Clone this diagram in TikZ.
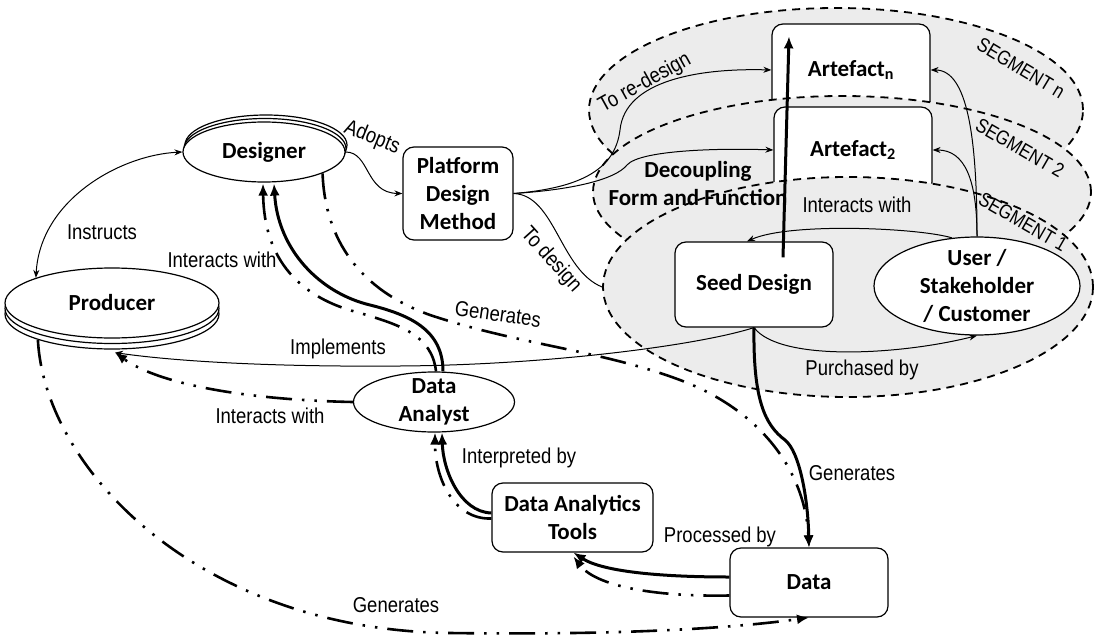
\documentclass[tikz,border=0pt]{standalone}
\usepackage{fontspec}
\newfontfamily\labfont[FakeStretch=0.86]{Liberation Sans}
\newfontfamily\segfont[FakeStretch=0.85]{Liberation Sans}
\newfontfamily\nodefont{Carlito}
\usetikzlibrary{shapes.geometric,arrows.meta,calc}
\definecolor{seggray}{RGB}{236,236,236}
\tikzset{
  tS/.tip={Stealth[length=8pt,width=6pt]},
  tL/.tip={Latex[length=12pt,width=10pt]},
  segell/.style={ellipse, draw, dash pattern=on 8pt off 6pt, line width=1.8pt, fill=seggray, inner sep=0pt},
  nodetext/.style={font=\nodefont\bfseries\fontsize{23}{28}\selectfont, align=center, inner sep=0pt},
  boxnode/.style={rectangle, rounded corners=11pt, draw, line width=1.2pt, fill=white, inner sep=0pt, nodetext},
  ovalnode/.style={ellipse, draw, line width=1.2pt, fill=white, inner sep=0pt},
  lab/.style={font=\labfont\fontsize{21.5}{24}\selectfont, inner sep=0pt},
  seglab/.style={font=\segfont\fontsize{20}{22}\selectfont, inner sep=0pt},
  thinl/.style={line width=1pt},
  thickl/.style={line width=3pt},
  ddl/.style={line width=2.6pt, dash pattern=on 26pt off 10pt on 2.5pt off 10pt on 2.5pt off 10pt},
}
\begin{document}
\begin{tikzpicture}[x=1pt,y=1pt]
\useasboundingbox (0,0) rectangle (1097,-639);

% segments and artefacts
\node[segell, minimum width=494pt, minimum height=204pt] (segn) at (836,-110) {};
\node[boxnode, minimum width=158pt, minimum height=92pt] (artn) at (851,-70) {};
\node[segell, minimum width=498pt, minimum height=192pt] (seg2) at (842,-192) {};
\node[boxnode, minimum width=158pt, minimum height=86pt] (art2) at (853,-150) {};
\node[segell, minimum width=490pt, minimum height=220pt] (seg1) at (848,-287) {};
\node[nodetext] (artnt) at (851,-70) {Artefact\textsubscript{n}};
\node[nodetext] (art2t) at (853,-150) {Artefact\textsubscript{2}};

\node[boxnode, minimum width=158pt, minimum height=85pt] (sd) at (754,-284.5) {Seed Design};
\node[ovalnode, minimum width=206pt, minimum height=98pt,
      label={[nodetext]center:User /\\Stakeholder\\/ Customer}] (user) at (977,-286) {};

% designer with stacked copies
\node[ovalnode, minimum width=162pt, minimum height=60pt] (desc2) at (266,-145) {};
\node[ovalnode, minimum width=162pt, minimum height=60pt] (desc1) at (265,-148.5) {};
\node[ovalnode, minimum width=162pt, minimum height=60pt,
      label={[nodetext]center:Designer}] (des) at (264,-152) {};

% producer with stacked copies
\node[ovalnode, minimum width=214pt, minimum height=70pt] (prodc2) at (112,-314) {};
\node[ovalnode, minimum width=214pt, minimum height=70pt] (prodc1) at (112,-308.5) {};
\node[ovalnode, minimum width=214pt, minimum height=70pt,
      label={[nodetext]center:Producer}] (prod) at (112,-303) {};

\node[boxnode, minimum width=110pt, minimum height=93pt] (pdm) at (458,-193.5) {Platform\\Design\\Method};
\node[ovalnode, minimum width=161pt, minimum height=60pt,
      label={[nodetext]center:Data\\Analyst}] (da) at (434,-402) {};
\node[boxnode, minimum width=161pt, minimum height=69pt] (dat) at (572.5,-517.5) {Data Analytics\\Tools};
\node[boxnode, minimum width=158pt, minimum height=69pt] (data) at (809,-582.5) {Data};

\coordinate (prodbot) at ($(prod.south)+(3,-14)$);
\coordinate (prodbl) at ($(prod.south west)+(2,-12)$);

% thin connectors
\draw[thinl, tS-tS] (des.west) .. controls (120,-155) and (40,-200) .. (prod.north west);
\draw[thinl, -tS] (des.east) .. controls (370,-152) and (365,-193) .. (pdm.west);
\draw[thinl, -tS] (pdm.east) .. controls (580,-188) and (615,-170) .. (620,-130)
      .. controls (625,-80) and (700,-68) .. (artn.west);
\draw[thinl, -tS] (pdm.east) .. controls (570,-190) and (615,-180) .. (627,-165)
      .. controls (640,-150) and (720,-148) .. (art2.west);
\draw[thinl] (pdm.east) .. controls (555,-195) and (560,-270) .. (seg1.west);
\draw[thinl, -tS] (sd.south) .. controls (700,-345) and (550,-365) .. (400,-366)
      .. controls (280,-367) and (180,-362) .. (prodbot);
\draw[thinl, -tS] (sd.south) .. controls (780,-362) and (900,-355) .. (user.south);
\draw[thinl, -tS] ($(user.north)+(-25,-1.5)$) .. controls (920,-228) and (790,-222) .. ($(sd.north)+(-7,0)$);
\draw[thinl, -tS] (user.north) .. controls (977,-180) and (965,-150) .. (art2.east);
\draw[thinl, -tS] (user.north) .. controls (977,-140) and (968,-70) .. (artn.east);

% thick and dash-dot connectors
\draw[thickl, -tL] ($(da.north)+(9,0)$) .. controls (443,-330) and (410,-315) .. (370,-305)
      .. controls (320,-293) and (278,-250) .. ($(des.south)+(10,-1)$);
\draw[ddl, -tL] ($(da.north)+(2,0)$) .. controls (432,-335) and (400,-325) .. (360,-313)
      .. controls (300,-298) and (264,-260) .. ($(des.south)+(-1,-1)$);
\draw[ddl, -tL] (des.-20) .. controls (325,-240) and (360,-290) .. (430,-315)
      .. controls (520,-345) and (600,-350) .. (680,-380)
      .. controls (760,-410) and (805,-470) .. (data.north);
\draw[thickl, -tL] (sd.south) .. controls (753,-400) and (765,-425) .. (785,-440)
      .. controls (800,-452) and (808,-500) .. (data.north);
\draw[thickl, -tL] ($(data.west)+(0,5.5)$) .. controls (650,-577) and (600,-570) .. ($(dat.south)+(1,0)$);
\draw[ddl, -tL] ($(data.west)+(0,-13)$) .. controls (650,-597) and (595,-585) .. ($(dat.south)+(1,-4)$);
\draw[thickl, -tL] ($(dat.west)+(0,4.5)$) .. controls (460,-512) and (443,-470) .. ($(da.south)+(8,0)$);
\draw[ddl, -tL] ($(dat.west)+(0,-1)$) .. controls (455,-520) and (435,-480) .. ($(da.south)+(1,0)$);
\draw[ddl, -tL] (da.west) .. controls (250,-400) and (160,-385) .. (prodbot);
\draw[ddl, -tL] (prodbl) .. controls (45,-470) and (200,-630) .. (450,-633)
      .. controls (600,-635) and (720,-630) .. (data.south);

% labels
\node[nodetext] (dec) at (698,-184) {Decoupling\\Form and Function};
\node[lab, rotate=-22] (lAdopts) at (372,-138) {Adopts};
\node[lab] (lInstr) at (102,-232) {Instructs};
\node[lab] (lInt1) at (222,-260) {Interacts with};
\node[lab, rotate=-8] (lGen1) at (498,-314) {Generates};
\node[lab] (lImpl) at (338,-349) {Implements};
\node[lab] (lInt2) at (270,-416) {Interacts with};
\node[lab] (lInterp) at (519,-458) {Interpreted by};
\node[lab] (lProc) at (720,-537) {Processed by};
\node[lab] (lGen2) at (852,-473) {Generates};
\node[lab] (lPurch) at (862,-370) {Purchased by};
\node[lab] (lInt3) at (857,-205) {Interacts with};
\node[lab] (lGen3) at (396,-605) {Generates};
\node[lab, rotate=29] (lRedes) at (645,-83) {To re-design};
\node[lab, rotate=-48] (lDes) at (551,-260) {To design};
\node[seglab, rotate=-31] (lsegn) at (1021,-68) {SEGMENT n};
\node[seglab, rotate=-30] (lseg2) at (1020,-148) {SEGMENT 2};
\node[seglab, rotate=-30] (lseg1) at (1023,-222) {SEGMENT 1};

% thick arrow seed design -> artefact n (on top)
\draw[thickl, -tL] ($(sd.north)+(29,-16)$) -- ($(artn.north)+(-62,-13)$);
\end{tikzpicture}
\end{document}
